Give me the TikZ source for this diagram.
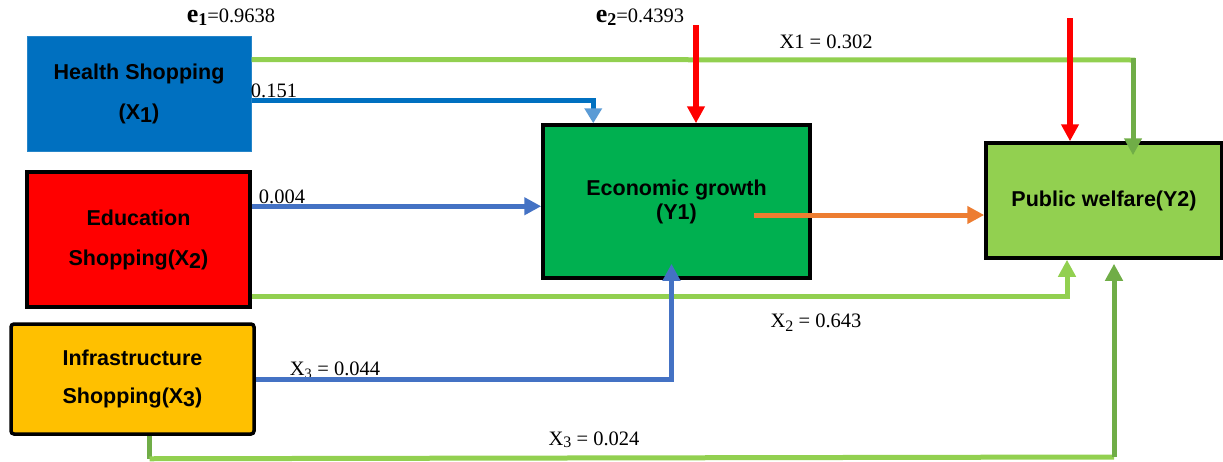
\documentclass[tikz,border=0pt]{standalone}
\usepackage{fontspec}
\setmainfont{Liberation Serif}
\newfontfamily\arialfont{Liberation Sans}
\usetikzlibrary{arrows.meta}
\definecolor{hblue}{HTML}{0070C0}
\definecolor{tipblue}{HTML}{5B9BD5}
\definecolor{lblue}{HTML}{4472C4}
\definecolor{xred}{HTML}{FF0000}
\definecolor{xorange}{HTML}{FFC000}
\definecolor{ygreen}{HTML}{00B050}
\definecolor{lgreen}{HTML}{92D050}
\definecolor{dgreen}{HTML}{70AD47}
\definecolor{orng}{HTML}{ED7D31}
\tikzset{
  box/.style={draw=black, line width=3.5pt, inner sep=0pt, align=center,
    font=\arialfont\bfseries\fontsize{21.5}{40}\selectfont},
  link/.style={line width=5pt},
  lbl/.style={inner sep=0pt, font=\fontsize{20.5}{20.5}\selectfont}
}
\begin{document}
\begin{tikzpicture}[x=1pt, y=-1pt, >={Triangle[width=17pt,length=17pt]}]
				\useasboundingbox (0,0) rectangle (1223,461);
				% variables
				\node[box, draw=hblue!85!white, line width=1pt, fill=hblue, minimum width=224pt, minimum height=115pt] (X1) at (139,93.5) {Health Shopping\\(X\raisebox{-3pt}{1})};
				\node[box, fill=xred, minimum width=223pt, minimum height=135pt] (X2) at (138.5,239.5) {Education\\Shopping(X\raisebox{-3pt}{2})};
				\node[box, fill=xorange, rounded corners=3pt, minimum width=243pt, minimum height=110pt, font=\arialfont\bfseries\fontsize{21.5}{38}\selectfont] (X3) at (132.5,379) {Infrastructure\\Shopping(X\raisebox{-3pt}{3})};
				\node[box, fill=ygreen, minimum width=267pt, minimum height=153pt, font=\arialfont\bfseries\fontsize{21.5}{24}\selectfont] (Y1) at (676.5,201.5) {Economic growth\\(Y1)};
				\node[box, fill=lgreen, minimum width=236pt, minimum height=115pt] (Y2) at (1104,200.5) {Public welfare(Y2)};
				% labels
				\node[lbl] (e1) at (231,17) {{\fontsize{26}{26}\selectfont\bfseries e\raisebox{-3pt}{\fontsize{18}{18}\selectfont 1}}=0.9638};
				\node[lbl] (e2) at (640,17) {{\fontsize{26}{26}\selectfont\bfseries e\raisebox{-3pt}{\fontsize{18}{18}\selectfont 2}}=0.4393};
				\node[lbl] (b11) at (274,91) {0.151};
				\node[lbl] (b12) at (826,42) {X1 = 0.302};
				\node[lbl] (b21) at (282,197) {0.004};
				\node[lbl] (b22) at (816,323) {X\raisebox{-4pt}{\fontsize{16}{16}\selectfont 2} = 0.643};
				\node[lbl] (b31) at (335,370) {X\textsubscript{3} = 0.044};
				\node[lbl] (b32) at (594,440) {X\raisebox{-2pt}{\fontsize{16}{16}\selectfont 3} = 0.024};
				% helper points
				\coordinate (c1) at (1135,60);
				\coordinate (e2in) at (696,25);
				\coordinate (e3in) at (1070,18);
				\coordinate (p2) at ([yshift=-36pt]X2.north east);
				\coordinate (p4) at ([xshift=-58pt,yshift=-13.5pt]Y1.east);
				\coordinate (p9) at ([xshift=17pt,yshift=-23pt]X3.south);
				\coordinate (p10) at (1114,457);
				% paths
				\draw[link, lgreen] ([yshift=-24pt]X1.north east) -- (c1);
				\draw[link, dgreen, ->] ([xshift=-2pt,yshift=2.5pt]c1) -- ([xshift=29pt,yshift=-14pt]Y2.north);
				\draw[link, hblue, -{Triangle[width=17pt,length=15pt,color=tipblue]}] ([yshift=-65pt]X1.north east) -| ([xshift=52pt]Y1.north west);
				\draw[link, lblue, ->] (p2) -- (p2 -| Y1.west);
				\draw[link, orng, ->] (p4) -- (p4 -| Y2.west);
				\draw[link, lgreen, ->] ([yshift=12pt]X2.south east) -| ([xshift=-37pt]Y2.south);
				\draw[link, lblue, ->] (X3.east) -| ([xshift=-5pt,yshift=16pt]Y1.south);
				\draw[link, dgreen] ([xshift=17pt]X3.south) -- (p9);
				\draw[link, lgreen] (p9) -- (p10);
				\draw[link, dgreen, ->] (p10) -- ([xshift=10pt,yshift=-4pt]Y2.south);
				\draw[link, xred, line width=6pt, ->] (e2in) -- (e2in |- Y1.north);
				\draw[link, xred, line width=6pt, ->] (e3in) -- (e3in |- Y2.north);
			\end{tikzpicture}
\end{document}
